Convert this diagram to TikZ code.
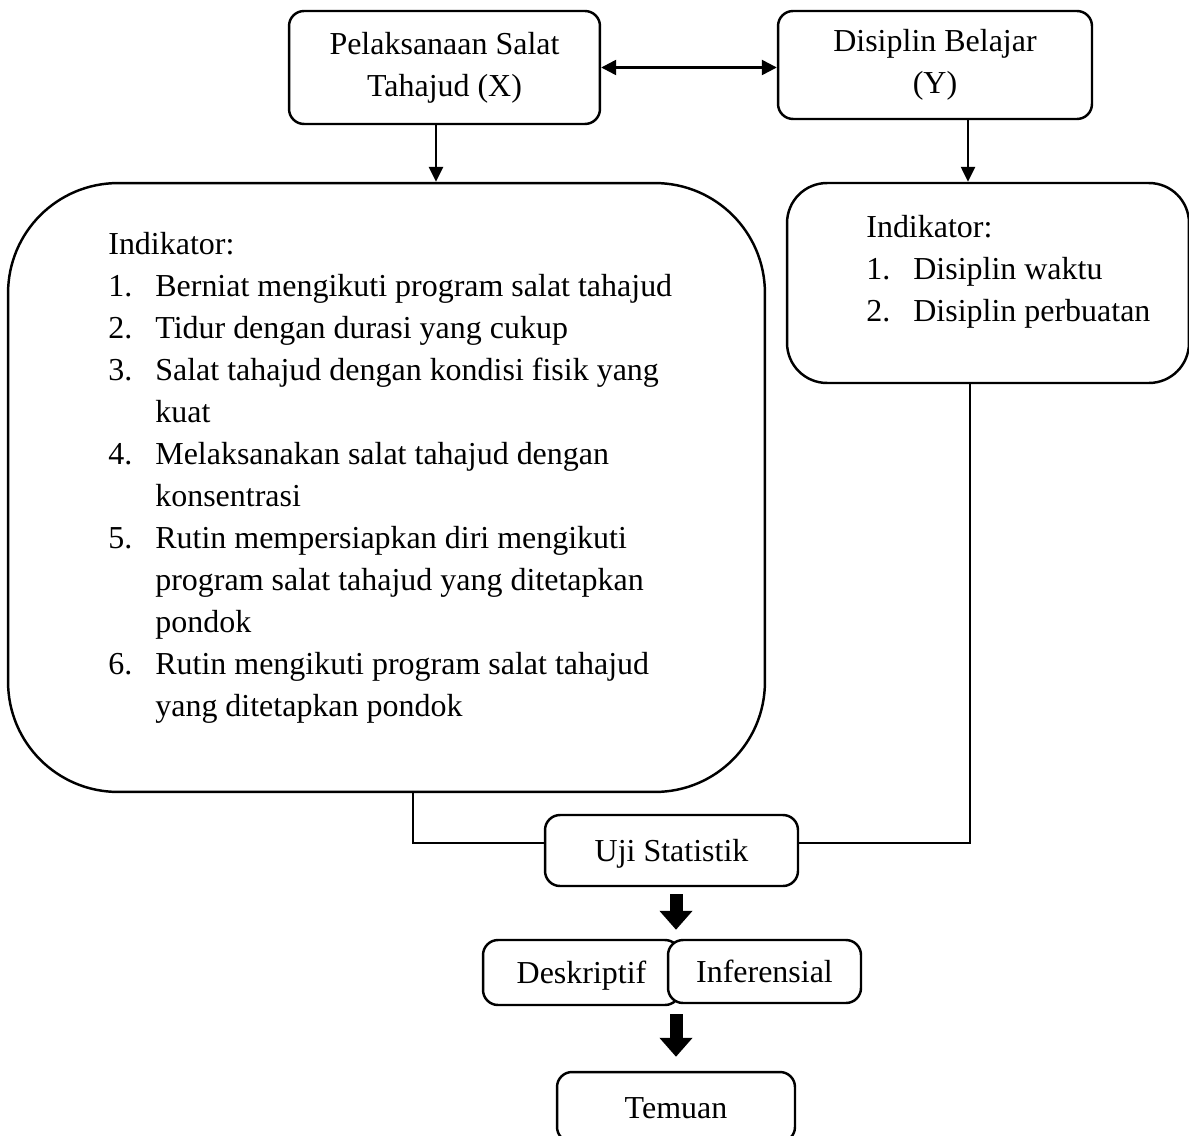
\documentclass[tikz,border=0pt]{standalone}
\usepackage{fontspec}
\setmainfont{Liberation Serif}
\usepackage{tikz}
\usetikzlibrary{positioning}
\usetikzlibrary{arrows.meta}
\newcommand{\bodyfont}{\fontsize{18.2}{23.9}\selectfont}
\newcommand{\indrow}[2]{\makebox[0.94cm][l]{#1}#2}
\begin{document}
\begin{tikzpicture}[
				x=0.02cm, y=-0.02cm,
				boxnode/.style={rectangle, rounded corners=0.3cm, draw=black, line width=1.4pt, fill=white, font=\bodyfont, align=center, inner sep=0pt},
				oneline/.style={text height=14pt, text depth=1pt},
				listnode/.style={anchor=north west, inner sep=0pt, font=\bodyfont, align=left},
				thinarrow/.style={line width=1.4pt, -{Triangle[length=0.3cm,width=0.28cm]}},
				blockarrow/.style={line width=0.26cm, -{Triangle[length=0.38cm,width=0.64cm]}},
				link/.style={line width=1.4pt},
				]
				\useasboundingbox (0,0) rectangle (1189,1135);
				\clip (0,0) rectangle (1189,1135);
				%Nodes
				\node[boxnode, minimum width=6.22cm, minimum height=2.26cm] (tahajud) at (444.5,67.5) {Pelaksanaan Salat\\Tahajud (X)};
				\node[boxnode, minimum width=6.28cm, minimum height=2.16cm] (disiplin) at (935,65) {Disiplin Belajar\\(Y)};
				\node[boxnode, rounded corners=2.2cm, minimum width=15.14cm, minimum height=12.18cm] (indx) at (386.5,487.5) {};
				\node[boxnode, rounded corners=0.8cm, minimum width=8.04cm, minimum height=4cm] (indy) at (988,283) {};
				\node[listnode] (listx) at (108,232) {Indikator:\\
					\indrow{1.}{Berniat mengikuti program salat tahajud}\\
					\indrow{2.}{Tidur dengan durasi yang cukup}\\
					\indrow{3.}{Salat tahajud dengan kondisi fisik yang}\\
					\indrow{}{kuat}\\
					\indrow{4.}{Melaksanakan salat tahajud dengan}\\
					\indrow{}{konsentrasi}\\
					\indrow{5.}{Rutin mempersiapkan diri mengikuti}\\
					\indrow{}{program salat tahajud yang ditetapkan}\\
					\indrow{}{pondok}\\
					\indrow{6.}{Rutin mengikuti program salat tahajud}\\
					\indrow{}{yang ditetapkan pondok}};
				\node[listnode] (listy) at (866,215) {Indikator:\\
					\indrow{1.}{Disiplin waktu}\\
					\indrow{2.}{Disiplin perbuatan}};
				\node[boxnode, oneline, minimum width=5.06cm, minimum height=1.42cm] (uji) at (671.5,850.5) {Uji Statistik};
				\node[boxnode, oneline, minimum width=3.94cm, minimum height=1.3cm] (desk) at (581.5,972.5) {Deskriptif};
				\node[boxnode, oneline, minimum width=3.86cm, minimum height=1.26cm] (infer) at (764.5,971.5) {Inferensial};
				\node[boxnode, oneline, minimum width=4.76cm, minimum height=1.4cm] (temuan) at (676,1107) {Temuan};
				
				%Lines
				\draw[line width=1.4pt, {Triangle[length=0.3cm,width=0.3cm]}-{Triangle[length=0.3cm,width=0.3cm]}] (tahajud.east) -- (tahajud.east -| disiplin.west);
				\draw[thinarrow] ([xshift=-0.17cm]tahajud.south) -- ([xshift=-0.17cm]tahajud.south |- indx.north);
				\draw[thinarrow] ([xshift=0.66cm]disiplin.south) -- ([xshift=0.66cm]disiplin.south |- indy.north);
				\draw[link] ([xshift=0.53cm]indx.south) |- ([yshift=0.15cm]uji.west);
				\draw[link] ([xshift=-0.36cm]indy.south) |- ([yshift=0.15cm]uji.east);
				\draw[blockarrow, shorten <=0.14cm, shorten >=0.18cm] (uji.south -| temuan.north) -- (temuan.north |- desk.north);
				\draw[blockarrow, shorten <=0.16cm, shorten >=0.28cm] (temuan.north |- desk.south) -- (temuan.north);
			\end{tikzpicture}
\end{document}
